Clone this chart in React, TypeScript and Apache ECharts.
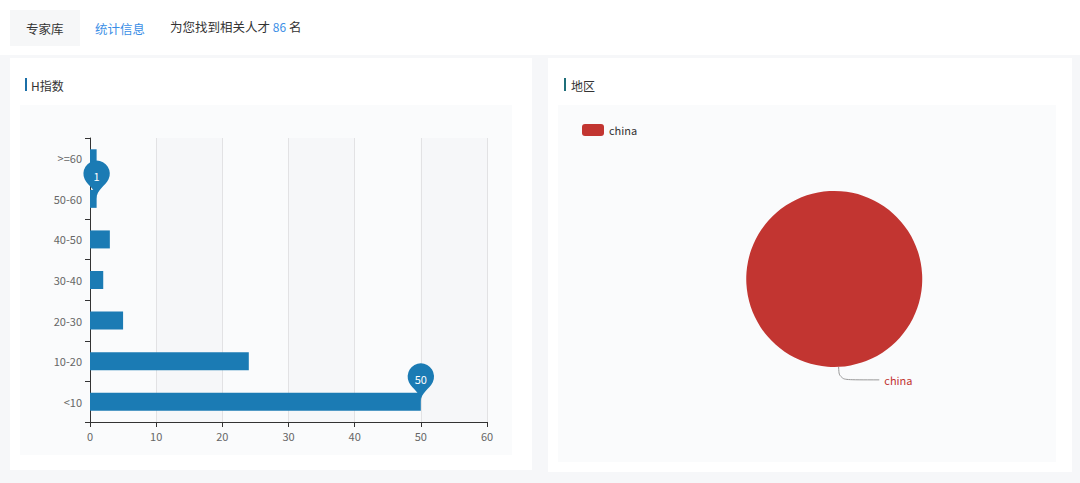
import React, { useEffect, useRef } from "react";
import * as echarts from "echarts";

const hCategories = ["<10", "10-20", "20-30", "30-40", "40-50", "50-60", ">=60"];
const hValues = [50, 24, 5, 2, 3, 1, 1];
const xTicks = [0, 10, 20, 30, 40, 50, 60];
const regionNames = ["china"];
const regionValues = [86];
const totalCount = 86;

const FONT = "'Noto Sans CJK SC', 'Noto Sans', sans-serif";

export default function App() {
  const ref = useRef<HTMLDivElement>(null);
  useEffect(() => {
    document.body.style.margin = "0";
    const chart = echarts.init(ref.current!, null, { renderer: "svg" });
    const option: any = {
      animation: false,
      backgroundColor: "#f6f7f9",
      textStyle: { fontFamily: FONT },
      graphic: [
        { type: "rect", shape: { x: 0, y: 0, width: 1080, height: 55 }, style: { fill: "#ffffff" }, z: 0 },
        { type: "rect", shape: { x: 10, y: 10, width: 70, height: 36 }, style: { fill: "#f6f7f8" }, z: 1 },
        { type: "text", x: 26, y: 28, style: { text: "专家库", fill: "#333", font: `12.5px ${FONT}`, verticalAlign: "middle" }, z: 2 },
        { type: "text", x: 95, y: 28, style: { text: "统计信息", fill: "#3a8ee6", font: `12.5px ${FONT}`, verticalAlign: "middle" }, z: 2 },
        {
          type: "text", x: 170, y: 26,
          style: {
            text: "为您找到相关人才 {n|" + totalCount + "} 名",
            fill: "#333", font: `12.5px ${FONT}`, verticalAlign: "middle",
            rich: { n: { fill: "#3a8ee6", font: `12px ${FONT}` } },
          }, z: 2,
        },
        // left panel
        { type: "rect", shape: { x: 10, y: 58, width: 522, height: 412 }, style: { fill: "#ffffff" }, z: 0 },
        { type: "rect", shape: { x: 20, y: 105, width: 492, height: 350 }, style: { fill: "#fafbfc" }, z: 0 },
        { type: "rect", shape: { x: 25, y: 78, width: 2, height: 13 }, style: { fill: "#1b6fa8" }, z: 2 },
        { type: "text", x: 31, y: 85, style: { text: "H指数", fill: "#333", font: `12px ${FONT}`, verticalAlign: "middle" }, z: 2 },
        // right panel
        { type: "rect", shape: { x: 548, y: 58, width: 524, height: 414 }, style: { fill: "#ffffff" }, z: 0 },
        { type: "rect", shape: { x: 558, y: 105, width: 498, height: 357 }, style: { fill: "#fafbfc" }, z: 0 },
        { type: "rect", shape: { x: 564, y: 78, width: 2, height: 13 }, style: { fill: "#1f6f7a" }, z: 2 },
        { type: "text", x: 571, y: 85, style: { text: "地区", fill: "#333", font: `12px ${FONT}`, verticalAlign: "middle" }, z: 2 },
      ],
      legend: {
        left: 577, top: 119, itemWidth: 22, itemHeight: 12, itemGap: 10,
        data: regionNames,
        textStyle: { color: "#333", fontSize: 11, fontFamily: FONT },
      },
      grid: { left: 90, top: 138, width: 397, height: 284, containLabel: false },
      xAxis: {
        type: "value", min: xTicks[0], max: xTicks[xTicks.length - 1], interval: 10,
        axisLine: { show: true, lineStyle: { color: "#333" } },
        axisTick: { show: true, lineStyle: { color: "#333" } },
        axisLabel: { color: "#666", fontSize: 11, fontFamily: FONT },
        splitLine: { show: true, lineStyle: { color: "#e2e2e4", width: 1 } },
        splitArea: { show: true, areaStyle: { color: ["rgba(255,255,255,0)", "rgba(240,240,242,0.3)"] } },
      },
      yAxis: {
        type: "category", data: hCategories,
        axisLine: { show: true, lineStyle: { color: "#333" } },
        axisTick: { show: true, lineStyle: { color: "#333" } },
        axisLabel: { color: "#666", fontSize: 11, fontFamily: FONT },
      },
      series: [
        {
          type: "bar", data: hValues, barWidth: 18,
          itemStyle: { color: "#1b7bb4" },
          markPoint: {
            symbolSize: 44,
            label: { color: "#fff", fontSize: 11, fontFamily: FONT },
            itemStyle: { color: "#1b7bb4" },
            data: [{ type: "max", name: "max" }, { type: "min", name: "min" }],
          },
        },
        {
          type: "pie", name: "地区", center: [834, 279], radius: 88, startAngle: 93,
          data: regionNames.map((n, i) => ({ name: n, value: regionValues[i] })),
          itemStyle: { color: "#c23531" },
          label: { color: "#c23531", fontSize: 11, fontFamily: FONT },
          labelLine: { length: 13, length2: 40, smooth: 0.4, lineStyle: { color: "#999" } },
        },
      ],
    };
    chart.setOption(option);
    return () => chart.dispose();
  }, []);
  return <div ref={ref} style={{ position: "fixed", left: 0, top: 0, width: 1080, height: 483 }} />;
}
